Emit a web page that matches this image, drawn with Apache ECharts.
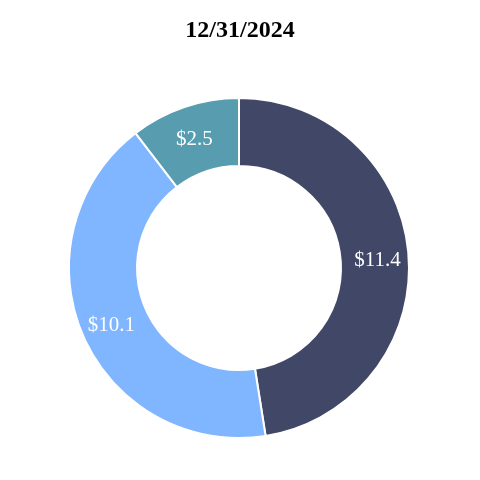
<!DOCTYPE html>
<html>
<head>
<meta charset="utf-8">
<script src="https://cdn.jsdelivr.net/npm/echarts@6/dist/echarts.min.js"></script>
<style>html,body{margin:0;padding:0;background:#fff}#c{width:480px;height:480px}</style>
</head>
<body>
<div id="c"></div>
<script>
const titleText = '12/31/2024';
const categories = ['A', 'B', 'C'];
const values = [11.4, 10.1, 2.5];
const labels = ['$11.4', '$10.1', '$2.5'];
const colors = ['#404767', '#80b5ff', '#579caf'];

const chart = echarts.init(document.getElementById('c'));
chart.setOption({
  animation: false,
  title: {
    text: titleText, left: 'center', top: 14,
    textStyle: { fontFamily: 'Liberation Serif, Times New Roman, serif', fontWeight: 'bold', fontSize: 24, color: '#000' }
  },
  series: [{
    type: 'pie',
    center: [239, 268],
    radius: [102, 170],
    startAngle: 90,
    clockwise: true,
    itemStyle: { borderColor: '#fff', borderWidth: 2 },
    label: {
      show: true, position: 'inside',
      formatter: p => labels[p.dataIndex],
      color: '#fff', fontSize: 21,
      offset: [0, 3],
      fontFamily: 'Liberation Serif, Times New Roman, serif'
    },
    labelLine: { show: false },
    data: categories.map((c, i) => ({ name: c, value: values[i], itemStyle: { color: colors[i] } }))
  }]
});
</script>
</body>
</html>
